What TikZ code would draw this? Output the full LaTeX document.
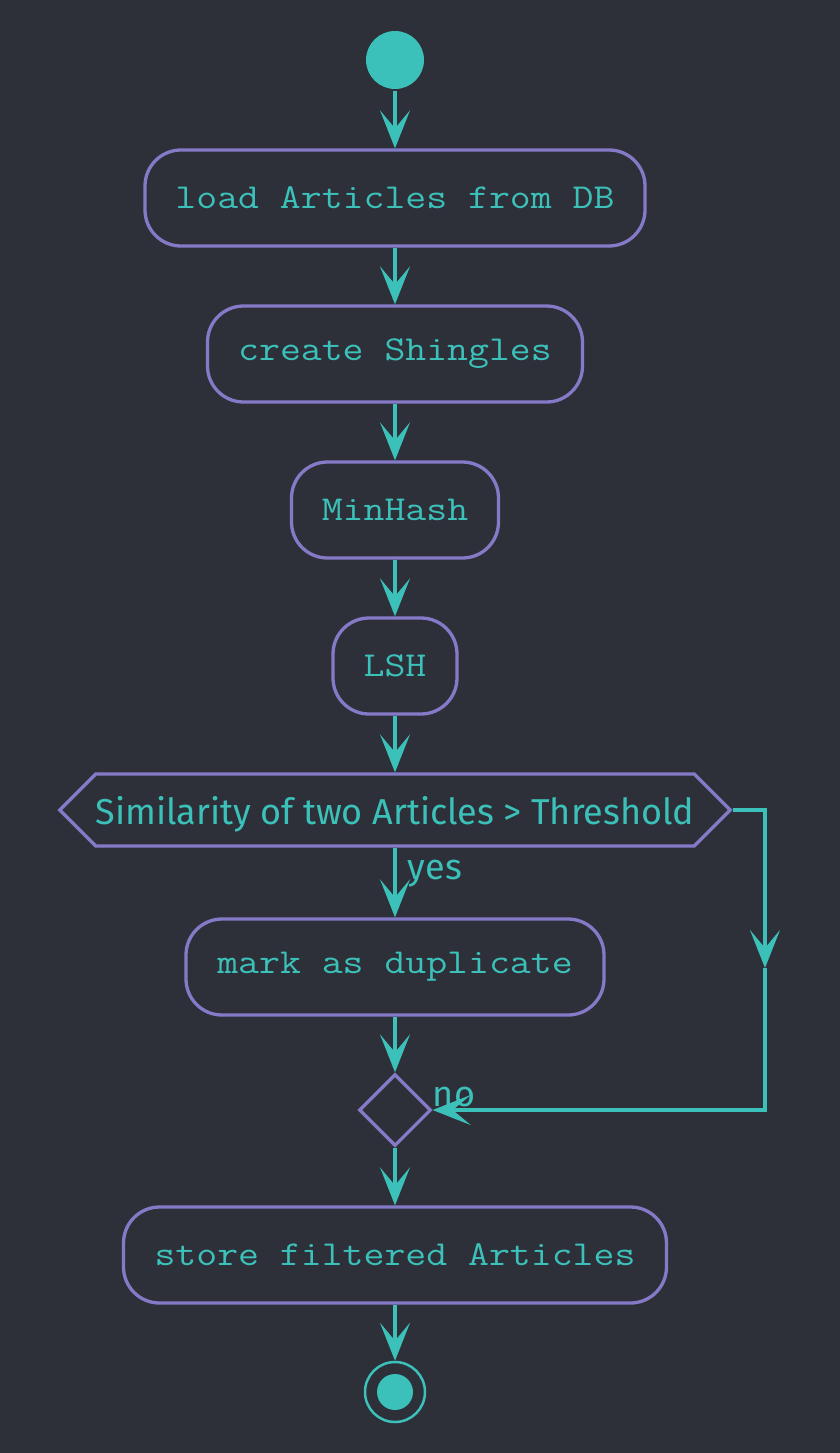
\documentclass[tikz,border=0pt]{standalone}
\usepackage{fontspec}
\usetikzlibrary{arrows.meta,shapes.symbols,shapes.geometric}
\newfontfamily\boxfont[FakeStretch=1.16]{Latin Modern Mono}
\newfontfamily\condfont{Fira Sans}
\definecolor{bgdark}{HTML}{2E3039}
\definecolor{flowteal}{HTML}{3BC1B9}
\definecolor{boxviolet}{HTML}{857AC8}

\begin{document}
\begin{tikzpicture}[x=1pt,y=-1pt,line width=3.3pt,
	act/.style={rectangle,rounded corners=36pt,draw=boxviolet,text=flowteal,minimum height=96pt,inner sep=0pt,font=\boxfont\fontsize{35}{40}\selectfont},
	flow/.style={draw=flowteal,-{Stealth[length=38pt,width=30pt,inset=18pt]}},
	cond/.style={text=flowteal,font=\condfont\fontsize{36}{42}\selectfont}]
	\useasboundingbox (0,0) rectangle (840,1453);
	\fill[bgdark] (0,0) rectangle (840,1453);
	\node (start) at (395,60) [circle,fill=flowteal,minimum size=58pt,inner sep=0pt] {};
	\node (load) at (395,198) [act,minimum width=500pt] {load Articles from DB};
	\node (shingles) at (395,354) [act,minimum width=375pt] {create Shingles};
	\node (minhash) at (395,510) [act,minimum width=207pt] {MinHash};
	\node (lsh) at (395,666) [act,minimum width=124pt] {LSH};
	\node (similar) at (395,810) [signal,signal to=west and east,signal pointer angle=90,draw=boxviolet,cond,text depth=0pt,minimum width=670pt,minimum height=72pt,inner sep=0pt] {Similarity of two Articles > Threshold};
	\node (yes) at (403,874) [cond,anchor=west] {yes};
	\node (duplicate) at (395,967) [act,minimum width=418pt] {mark as duplicate};
	\node (merge) at (395,1110) [diamond,draw=boxviolet,minimum size=72pt,inner sep=0pt] {};
	\node (no) at (428,1097) [cond,anchor=west] {no};
	\node (store) at (395,1255) [act,minimum width=543pt] {store filtered Articles};
	\node (stop) at (395,1392) [circle,draw=flowteal,line width=2.5pt,minimum size=60pt,inner sep=0pt] {};
	\node (stopdot) at (395,1392) [circle,fill=flowteal,minimum size=36pt,inner sep=0pt] {};
	\coordinate (nomid) at (765,968);
	\draw [flow] (start) -- (load);
	\draw [flow] (load) -- (shingles);
	\draw [flow] (shingles) -- (minhash);
	\draw [flow] (minhash) -- (lsh);
	\draw [flow] (lsh) -- (similar.north);
	\draw [flow] (similar.south) -- (duplicate);
	\draw [flow] (duplicate) -- (merge);
	\draw [flow] (similar.east) -| (nomid);
	\draw [flow] (nomid) |- (merge.east);
	\draw [flow] (merge) -- (store);
	\draw [flow] (store) -- (stop);
\end{tikzpicture}
\end{document}
